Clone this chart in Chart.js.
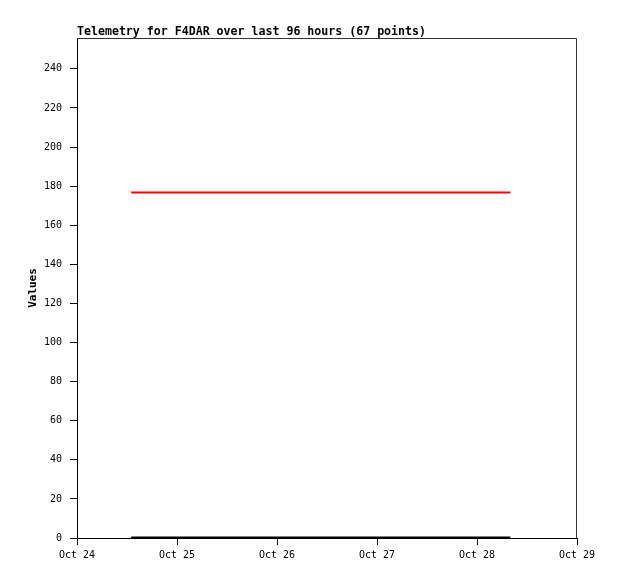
<!DOCTYPE html>
<html>
<head>
<meta charset="utf-8">
<script src="https://cdn.jsdelivr.net/npm/chart.js@4/dist/chart.umd.min.js"></script>
<style>
  html, body { margin: 0; padding: 0; background: #fff; }
  #wrap { width: 618px; height: 579px; }
</style>
</head>
<body>
<div id="wrap"><canvas id="telemetryChart" width="618" height="579"></canvas></div>
<script>
// hours since Oct 24 00:00
const hours = [13, 104];
const redValues = [176.8, 176.8];
const blackValues = [0.3, 0.3];
const dayLabels = ['Oct 24', 'Oct 25', 'Oct 26', 'Oct 27', 'Oct 28', 'Oct 29'];
const dayHours = [0, 24, 48, 72, 96, 120];
const yTicks = [0, 20, 40, 60, 80, 100, 120, 140, 160, 180, 200, 220, 240];
const titleText = 'Telemetry for F4DAR over last 96 hours (67 points)';
const yTitle = 'Values';

const mono = '"DejaVu Sans Mono", "Liberation Mono", monospace';

const frame = {
    id: 'frame',
    afterDraw(chart) {
        const c = chart.ctx, a = chart.chartArea;
        c.save();
        c.strokeStyle = '#333';
        c.lineWidth = 1;
        c.beginPath();
        c.moveTo(a.left, a.top + 0.5);
        c.lineTo(a.right - 0.5, a.top + 0.5);
        c.lineTo(a.right - 0.5, a.bottom);
        c.stroke();

        c.fillStyle = '#000';
        c.font = 'bold 11.6px ' + mono;
        c.textBaseline = 'alphabetic';
        c.textAlign = 'left';
        c.fillText(titleText, 77, 35);

        c.translate(36, (a.top + a.bottom) / 2);
        c.rotate(-Math.PI / 2);
        c.textAlign = 'center';
        c.font = 'bold 11px ' + mono;
        c.fillText(yTitle, 0, 0);
        c.restore();
    }
};

let data = {
    datasets: [{
        label: 'red',
        borderColor: 'rgb(255, 0, 0)',
        backgroundColor: 'rgb(255, 0, 0)',
        borderWidth: 2,
        pointRadius: 0,
        data: hours.map((h, i) => ({ x: h, y: redValues[i] }))
    },
    {
        label: 'black',
        borderColor: 'rgb(0, 0, 0)',
        backgroundColor: 'rgb(0, 0, 0)',
        borderWidth: 2,
        pointRadius: 0,
        data: hours.map((h, i) => ({ x: h, y: blackValues[i] }))
    }]
};

let config = {
    type: 'line',
    data: data,
    plugins: [frame],
    options: {
        responsive: false,
        animation: false,
        layout: { padding: { top: 38, right: 41, left: 0, bottom: 0 } },
        plugins: {
            legend: { display: false },
            tooltip: { enabled: false },
            title: { display: false }
        },
        scales: {
            x: {
                type: 'linear',
                min: 0,
                max: 120,
                afterBuildTicks: (s) => { s.ticks = dayHours.map(v => ({ value: v })); },
                afterFit: (s) => { s.height = 41; },
                ticks: {
                    color: '#000',
                    padding: 4,
                    maxRotation: 0,
                    font: { family: mono, size: 10 },
                    callback: (v) => dayLabels[dayHours.indexOf(v)]
                },
                grid: { drawOnChartArea: false, tickLength: 7, color: '#000' },
                border: { color: '#000' }
            },
            y: {
                min: 0,
                max: 255.8,
                afterBuildTicks: (s) => { s.ticks = yTicks.map(v => ({ value: v })); },
                afterFit: (s) => { s.width = 77; },
                ticks: {
                    color: '#000',
                    padding: 8,
                    font: { family: mono, size: 10 }
                },
                grid: { drawOnChartArea: false, tickLength: 7, color: '#000' },
                border: { color: '#000' }
            }
        }
    }
};

let telemetryChart = new Chart(
    document.getElementById('telemetryChart'),
    config
);
</script>
</body>
</html>
